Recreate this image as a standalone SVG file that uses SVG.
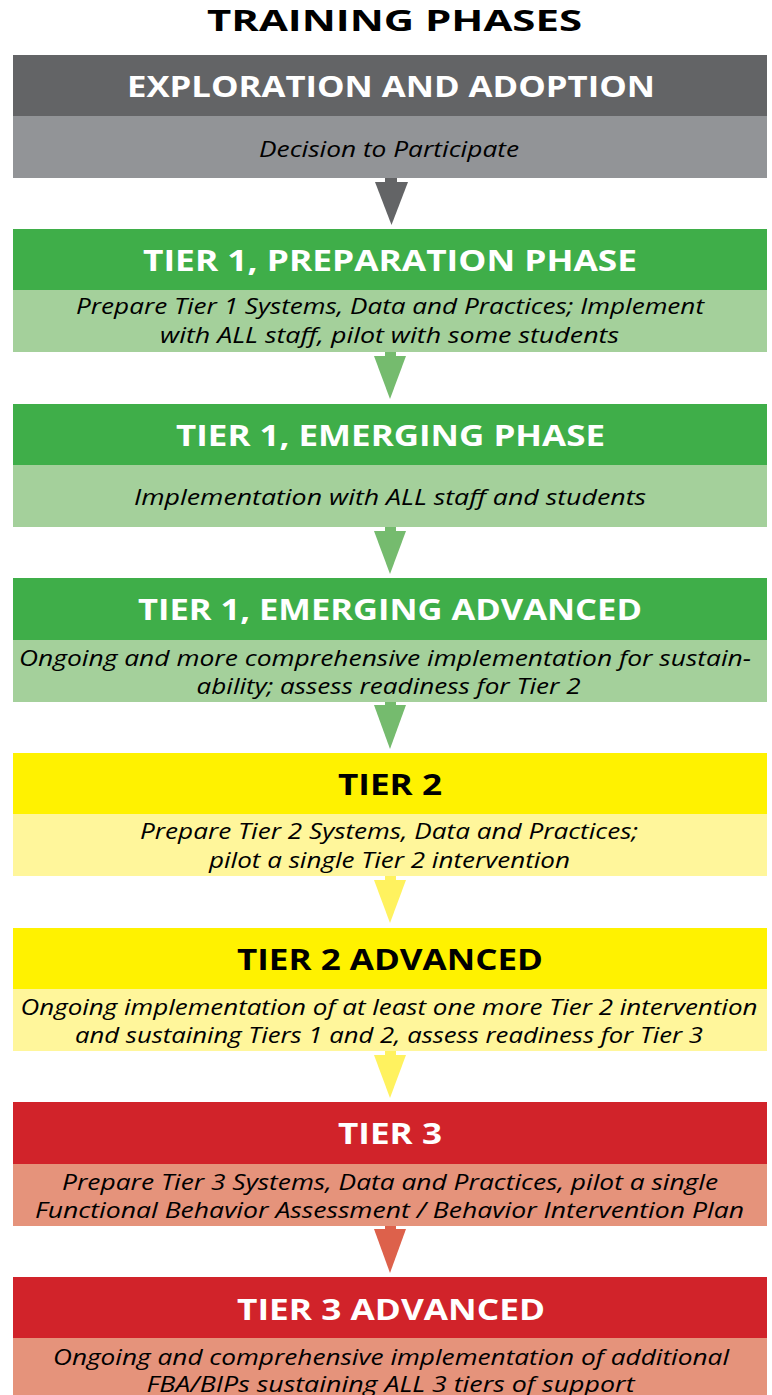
<svg xmlns="http://www.w3.org/2000/svg" width="772" height="1395" viewBox="0 0 772 1395">
  <style>
    .title { font-family: "Open Sans", "Liberation Sans", sans-serif; font-weight: 700; font-size: 29px; fill: #000; }
    .head { font-family: "Open Sans", "Liberation Sans", sans-serif; font-weight: 700; font-size: 28px; fill: #fff; }
    .head.dark { fill: #000; }
    .sub { font-family: "Open Sans", "Liberation Sans", sans-serif; font-style: italic; font-size: 22px; fill: #000; }
    .g-h { fill: #636466; } .g-s { fill: #929497; } .g-a { fill: #636466; }
    .n-h { fill: #3fae49; } .n-s { fill: #a4d09b; } .n-a { fill: #75bb6e; }
    .y-h { fill: #fff200; } .y-s { fill: #fff69b; } .y-a { fill: #fff25f; }
    .r-h { fill: #d1232a; } .r-s { fill: #e5937b; } .r-a { fill: #dd614b; }
  </style>

  <text class="title" x="394.5" y="31" text-anchor="middle" textLength="375" lengthAdjust="spacingAndGlyphs">TRAINING PHASES</text>

  <!-- phase blocks: header bar + description bar -->
  <g id="exploration">
    <rect class="g-h" x="13" y="55" width="754" height="62"/>
    <rect class="g-s" x="13" y="116" width="754" height="62"/>
    <text class="head" x="391" y="96.5" text-anchor="middle" textLength="528" lengthAdjust="spacingAndGlyphs">EXPLORATION AND ADOPTION</text>
    <text class="sub" x="389" y="156.5" text-anchor="middle" textLength="260" lengthAdjust="spacingAndGlyphs">Decision to Participate</text>
  </g>

  <g id="tier1-preparation">
    <rect class="n-h" x="13" y="229" width="754" height="62"/>
    <rect class="n-s" x="13" y="290" width="754" height="62"/>
    <text class="head" x="390" y="271" text-anchor="middle" textLength="494" lengthAdjust="spacingAndGlyphs">TIER 1, PREPARATION PHASE</text>
    <text class="sub" x="390" y="314" text-anchor="middle" textLength="628" lengthAdjust="spacingAndGlyphs">Prepare Tier 1 Systems, Data and Practices; Implement</text>
    <text class="sub" x="389.5" y="343" text-anchor="middle" textLength="459" lengthAdjust="spacingAndGlyphs">with ALL staff, pilot with some students</text>
  </g>

  <g id="tier1-emerging">
    <rect class="n-h" x="13" y="404" width="754" height="62"/>
    <rect class="n-s" x="13" y="465" width="754" height="62"/>
    <text class="head" x="390.5" y="446" text-anchor="middle" textLength="429" lengthAdjust="spacingAndGlyphs">TIER 1, EMERGING PHASE</text>
    <text class="sub" x="390" y="505" text-anchor="middle" textLength="512" lengthAdjust="spacingAndGlyphs">Implementation with ALL staff and students</text>
  </g>

  <g id="tier1-emerging-advanced">
    <rect class="n-h" x="13" y="578" width="754" height="63"/>
    <rect class="n-s" x="13" y="640" width="754" height="62"/>
    <text class="head" x="390" y="620" text-anchor="middle" textLength="504" lengthAdjust="spacingAndGlyphs">TIER 1, EMERGING ADVANCED</text>
    <text class="sub" x="385" y="666" text-anchor="middle" textLength="732" lengthAdjust="spacingAndGlyphs">Ongoing and more comprehensive implementation for sustain-</text>
    <text class="sub" x="388.5" y="694" text-anchor="middle" textLength="384" lengthAdjust="spacingAndGlyphs">ability; assess readiness for Tier 2</text>
  </g>

  <g id="tier2">
    <rect class="y-h" x="13" y="753" width="754" height="62"/>
    <rect class="y-s" x="13" y="814" width="754" height="62"/>
    <text class="head dark" x="390" y="795" text-anchor="middle" textLength="104" lengthAdjust="spacingAndGlyphs">TIER 2</text>
    <text class="sub" x="389" y="839" text-anchor="middle" textLength="498" lengthAdjust="spacingAndGlyphs">Prepare Tier 2 Systems, Data and Practices;</text>
    <text class="sub" x="389.5" y="868" text-anchor="middle" textLength="361" lengthAdjust="spacingAndGlyphs">pilot a single Tier 2 intervention</text>
  </g>

  <g id="tier2-advanced">
    <rect class="y-h" x="13" y="928" width="754" height="62"/>
    <rect class="y-s" x="13" y="989" width="754" height="62"/>
    <text class="head dark" x="390" y="970" text-anchor="middle" textLength="306" lengthAdjust="spacingAndGlyphs">TIER 2 ADVANCED</text>
    <text class="sub" x="389" y="1015" text-anchor="middle" textLength="737" lengthAdjust="spacingAndGlyphs">Ongoing implementation of at least one more Tier 2 intervention</text>
    <text class="sub" x="389" y="1043" text-anchor="middle" textLength="628" lengthAdjust="spacingAndGlyphs">and sustaining Tiers 1 and 2, assess readiness for Tier 3</text>
  </g>

  <g id="tier3">
    <rect class="r-h" x="13" y="1102" width="754" height="63"/>
    <rect class="r-s" x="13" y="1164" width="754" height="62"/>
    <text class="head" x="390" y="1144" text-anchor="middle" textLength="104" lengthAdjust="spacingAndGlyphs">TIER 3</text>
    <text class="sub" x="390" y="1190" text-anchor="middle" textLength="656" lengthAdjust="spacingAndGlyphs">Prepare Tier 3 Systems, Data and Practices, pilot a single</text>
    <text class="sub" x="389.5" y="1218" text-anchor="middle" textLength="709" lengthAdjust="spacingAndGlyphs">Functional Behavior Assessment / Behavior Intervention Plan</text>
  </g>

  <g id="tier3-advanced">
    <rect class="r-h" x="13" y="1277" width="754" height="62"/>
    <rect class="r-s" x="13" y="1338" width="754" height="57"/>
    <text class="head" x="391" y="1320" text-anchor="middle" textLength="308" lengthAdjust="spacingAndGlyphs">TIER 3 ADVANCED</text>
    <text class="sub" x="391" y="1365" text-anchor="middle" textLength="676" lengthAdjust="spacingAndGlyphs">Ongoing and comprehensive implementation of additional</text>
    <text class="sub" x="390.5" y="1392" text-anchor="middle" textLength="488" lengthAdjust="spacingAndGlyphs">FBA/BIPs sustaining ALL 3 tiers of support</text>
  </g>

  <!-- downward arrows between phases: short stem + triangle head -->
  <g id="connectors">
    <g class="g-a"><rect x="385" y="178" width="12" height="5"/><polygon points="375,182 408,182 391.5,225"/></g>
    <g class="n-a"><rect x="385" y="352" width="11" height="5"/><polygon points="374,356 406,356 390,399"/></g>
    <g class="n-a"><rect x="385" y="527" width="11" height="5"/><polygon points="374,531 406,531 390,574"/></g>
    <g class="n-a"><rect x="385" y="702" width="11" height="4"/><polygon points="374,705 406,705 390,749"/></g>
    <g class="y-a"><rect x="385" y="876" width="11" height="5"/><polygon points="374,880 406,880 390,923"/></g>
    <g class="y-a"><rect x="385" y="1051" width="11" height="5"/><polygon points="374,1055 406,1055 390,1098"/></g>
    <g class="r-a"><rect x="385" y="1226" width="11" height="4"/><polygon points="374,1229 406,1229 390,1273"/></g>
  </g>
</svg>
